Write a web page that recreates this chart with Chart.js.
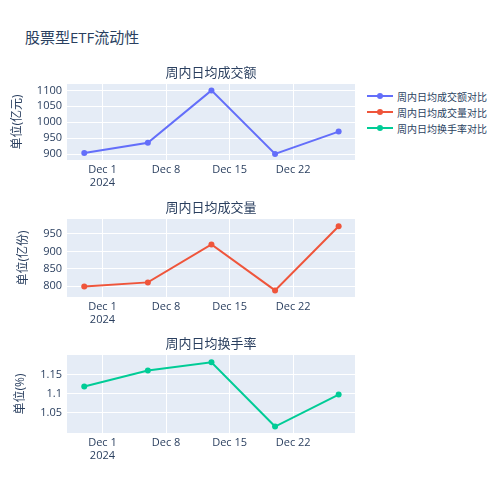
<!DOCTYPE html>
<html>
<head>
<meta charset="utf-8">
<script src="https://cdn.jsdelivr.net/npm/chart.js@4.4.1/dist/chart.umd.min.js"></script>
<style>
  body { margin: 0; background: #fff; font-family: "Open Sans", "Noto Sans CJK SC", sans-serif; color: #2a3f5f; }
  #page { position: relative; width: 500px; height: 500px; }
  .box { position: absolute; left: 0; width: 360px; }
  #title { position: absolute; left: 25px; top: 26px; font-size: 15px; }
  #legend { position: absolute; left: 367px; top: 88px; font-size: 10px; z-index: 2; }
  .item { height: 16px; display: flex; align-items: center; }
  .swatch { position: relative; width: 26px; height: 2px; margin-right: 4px; }
  .swatch i { position: absolute; left: 10px; top: -2px; width: 6px; height: 6px; border-radius: 50%; }
</style>
</head>
<body>
<div id="page">
  <div id="title">股票型ETF流动性</div>
  <div class="box" style="top:60px;height:130px"><canvas id="amount-canvas"></canvas></div>
  <div class="box" style="top:195px;height:132px"><canvas id="volume-canvas"></canvas></div>
  <div class="box" style="top:331px;height:132px"><canvas id="turnover-canvas"></canvas></div>
  <div id="legend"></div>
</div>
<script>
const dates = ["2024-11-29", "2024-12-06", "2024-12-13", "2024-12-20", "2024-12-27"];
const amountValues = [904, 936, 1100, 901, 971];
const volumeValues = [799, 811, 920, 788, 972];
const turnoverValues = [1.118, 1.160, 1.182, 1.013, 1.097];

const xTickDates = ["2024-12-01", "2024-12-08", "2024-12-15", "2024-12-22"];
const xTickLabels = [["Dec 1", "2024"], "Dec 8", "Dec 15", "Dec 22"];
const amountTicks = [900, 950, 1000, 1050, 1100];
const volumeTicks = [800, 850, 900, 950];
const turnoverTicks = [1.05, 1.1, 1.15];

const seriesNames = ["周内日均成交额对比", "周内日均成交量对比", "周内日均换手率对比"];
const colors = ["#636efa", "#EF553B", "#00cc96"];

const FONT = '"Open Sans", "Noto Sans CJK SC", sans-serif';
const TEXT = "#2a3f5f";

// days counted from Dec 1
const dayNum = (s) => (Date.parse(s) - Date.parse("2024-12-01")) / 86400000;
const xTickValues = xTickDates.map(dayNum);

const plotBg = {
  id: "plotBg",
  beforeDraw(chart) {
    const a = chart.chartArea;
    chart.ctx.save();
    chart.ctx.fillStyle = "#E5ECF6";
    chart.ctx.fillRect(a.left, a.top, a.right - a.left, a.bottom - a.top);
    chart.ctx.restore();
  },
};

function makeChart(id, title, yTitle, values, ticks, yMin, yMax, color, titlePad) {
  const ctx = document.getElementById(id).getContext("2d");
  return new Chart(ctx, {
    type: "line",
    data: {
      datasets: [
        {
          data: dates.map((d, i) => ({ x: dayNum(d), y: values[i] })),
          borderColor: color,
          backgroundColor: color,
          borderWidth: 2,
          pointRadius: 3,
          pointBorderWidth: 0,
          pointHoverRadius: 3,
          tension: 0,
        },
      ],
    },
    options: {
      responsive: true,
      maintainAspectRatio: false,
      animation: false,
      layout: { padding: { left: 0, right: 5, top: 0, bottom: 0 } },
      plugins: {
        legend: { display: false },
        tooltip: { enabled: false },
        title: {
          display: true,
          fullSize: false, // keep it centred over the plot, not the canvas
          text: title,
          color: TEXT,
          font: { family: FONT, size: 13, weight: "normal" },
          padding: { top: 5, bottom: 3.4 },
        },
      },
      scales: {
        x: {
          type: "linear",
          min: -3.9,
          max: 27.8,
          border: { display: false },
          grid: { color: "#ffffff", lineWidth: 1, drawTicks: false },
          afterBuildTicks: (s) => { s.ticks = xTickValues.map((v) => ({ value: v })); },
          afterFit: (s) => { s.height = 30; },
          ticks: {
            padding: 3,
            maxRotation: 0,
            autoSkip: false,
            color: TEXT,
            font: { family: FONT, size: 11 },
            callback: (v) => xTickLabels[xTickValues.indexOf(v)],
          },
        },
        y: {
          min: yMin,
          max: yMax,
          border: { display: false },
          grid: { color: "#ffffff", lineWidth: 1, drawTicks: false },
          afterBuildTicks: (s) => { s.ticks = ticks.map((v) => ({ value: v })); },
          afterFit: (s) => { s.width = 67; },
          ticks: {
            padding: 5,
            color: TEXT,
            font: { family: FONT, size: 11 },
            callback: (v) => String(v),
          },
          title: {
            display: true,
            text: yTitle,
            color: TEXT,
            font: { family: FONT, size: 12 },
            padding: { top: titlePad, bottom: 0 },
          },
        },
      },
    },
    plugins: [plotBg],
  });
}

makeChart("amount-canvas", "周内日均成交额", "单位(亿元)", amountValues, amountTicks, 882, 1120, colors[0], 10);
makeChart("volume-canvas", "周内日均成交量", "单位(亿份)", volumeValues, volumeTicks, 769, 993, colors[1], 16);
makeChart("turnover-canvas", "周内日均换手率", "单位(%)", turnoverValues, turnoverTicks, 0.996, 1.201, colors[2], 13);

const legend = document.getElementById("legend");
seriesNames.forEach((name, i) => {
  const row = document.createElement("div");
  row.className = "item";
  row.innerHTML = '<span class="swatch" style="background:' + colors[i] + '"><i style="background:' + colors[i] + '"></i></span>' + name;
  legend.appendChild(row);
});
</script>
</body>
</html>
